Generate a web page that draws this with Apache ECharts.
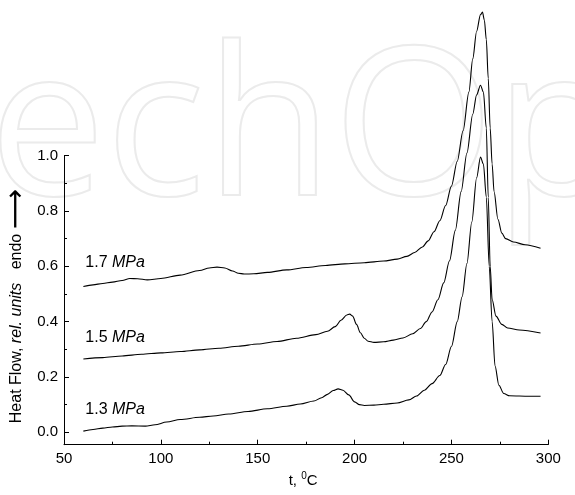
<!DOCTYPE html>
<html><head><meta charset="utf-8">
<script src="https://cdn.jsdelivr.net/npm/echarts@6/dist/echarts.min.js"></script>
<style>html,body{margin:0;padding:0;background:#fff}#c{width:575px;height:495px}</style>
</head><body><div id="c"></div>
<script>
// x ticks
const xTicks = [50, 100, 150, 200, 250, 300];
const yTicks = [0.0, 0.2, 0.4, 0.6, 0.8, 1.0];
const seriesNames = ['1.7', '1.5', '1.3'];
const labelPos = [[61, 0.613], [61, 0.342], [61, 0.082]];

const t17 = [60,65,70,75,80,84,88,93,100,110,120,125,129,133,137,140,143,148,155,165,175,185,195,205,215,222,227,231,235,238,241,244,247,250,253,256,259,261,263,265,266,267,268,269,270,271,272,274,276,278,282,288,296];
const v17 = [0.527,0.533,0.538,0.543,0.549,0.556,0.555,0.551,0.556,0.568,0.585,0.594,0.597,0.594,0.583,0.575,0.572,0.573,0.578,0.587,0.596,0.603,0.609,0.613,0.619,0.626,0.636,0.650,0.670,0.692,0.725,0.765,0.82,0.89,0.98,1.09,1.23,1.35,1.45,1.51,1.519,1.49,1.42,1.28,1.10,0.97,0.87,0.77,0.72,0.70,0.688,0.678,0.665];

const t15 = [60,70,80,90,100,110,120,130,140,150,160,170,180,186,190,193,196,197.5,199,201,203,205,207,210,215,220,225,230,234,237,240,243,246,249,252,255,258,261,263,265,266.5,268,269,270,271,273,276,279,285,296];
const v15 = [0.265,0.270,0.276,0.282,0.287,0.292,0.298,0.304,0.311,0.319,0.328,0.340,0.353,0.365,0.382,0.405,0.424,0.427,0.420,0.390,0.360,0.340,0.329,0.325,0.327,0.333,0.341,0.356,0.375,0.400,0.435,0.479,0.54,0.62,0.73,0.87,1.01,1.15,1.22,1.255,1.23,1.10,0.85,0.60,0.48,0.42,0.39,0.377,0.370,0.359];

const t13 = [60,65,70,75,80,85,92,97,103,110,120,127,135,145,155,165,172,179,183,186,189,191.5,194,197,200,202.5,205,210,215,222,228,232,236,240,244,247,250,253,255.5,258,260.5,263,265,266.5,268,269.5,271,272.5,274.5,277,280,290,296];
const v13 = [0.004,0.010,0.015,0.019,0.022,0.023,0.022,0.027,0.037,0.046,0.054,0.059,0.066,0.075,0.085,0.094,0.102,0.113,0.125,0.137,0.151,0.157,0.152,0.135,0.110,0.100,0.097,0.098,0.101,0.106,0.117,0.131,0.152,0.176,0.205,0.245,0.31,0.40,0.49,0.61,0.76,0.92,0.995,0.97,0.85,0.60,0.40,0.24,0.17,0.14,0.132,0.130,0.130];

const xs = [t17, t15, t13];
const vs = [v17, v15, v13];

const FONT = '"Liberation Sans", Arial, sans-serif';
const chart = echarts.init(document.getElementById('c'), null, {renderer: 'canvas'});

const series = seriesNames.map((name, k) => ({
  name: name + ' MPa',
  type: 'line',
  data: xs[k].map((t, i) => [t, vs[k][i]]),
  showSymbol: false,
  smooth: 0.3,
  smoothMonotone: 'x',
  clip: false,
  lineStyle: {color: '#000', width: 1.1},
  animation: false,
  markPoint: {
    symbol: 'circle', symbolSize: 0.1,
    itemStyle: {color: 'rgba(0,0,0,0)'},
    label: {
      show: true, position: 'right', distance: 0,
      formatter: name + ' {i|MPa}',
      color: '#000', fontFamily: FONT, fontSize: 16,
      rich: {i: {fontStyle: 'italic', fontFamily: FONT, fontSize: 16, color: '#000'}}
    },
    data: [{coord: labelPos[k]}]
  }
}));

chart.setOption({
  animation: false,
  backgroundColor: '#fff',
  graphic: [{
    type: 'text', left: -272, top: 31, z: -10, silent: true,
    style: {text: 'IntechOpen', font: '208px "Open Sans", sans-serif', fill: 'none', stroke: '#ebebeb', lineWidth: 2}
  }],
  grid: {left: 64, right: 26.7, top: 155.7, bottom: 50.3, containLabel: false, outerBoundsMode: 'none'},
  xAxis: {
    type: 'value', min: xTicks[0], max: xTicks[xTicks.length - 1], interval: 50,
    name: 't, {s|0}C', nameLocation: 'middle', nameGap: 27,
    nameTextStyle: {color: '#000', fontFamily: FONT, fontSize: 15, padding: [0, 6, 0, 0],
      rich: {s: {fontSize: 10, verticalAlign: 'top', padding: [0, 0, 8, 0], fontFamily: FONT, color: '#000'}}},
    axisLine: {onZero: false, lineStyle: {color: '#000', width: 1}},
    axisTick: {inside: true, length: 5, lineStyle: {color: '#000'}},
    minorTick: {show: true, splitNumber: 2, length: 3, lineStyle: {color: '#000'}},
    axisLabel: {color: '#000', fontFamily: FONT, fontSize: 15, margin: 7},
    splitLine: {show: false}
  },
  yAxis: {
    type: 'value', min: -0.045, max: yTicks[yTicks.length - 1], splitNumber: 5,
    name: 'Heat Flow, {i|rel. units}   endo {a|⟶}', nameLocation: 'middle', nameGap: 39,
    nameMoveOverlap: false,
    nameTextStyle: {color: '#000', fontFamily: FONT, fontSize: 16, lineHeight: 16, padding: [0, 12, 0, 0],
      rich: {i: {fontStyle: 'italic', fontFamily: FONT, fontSize: 16, lineHeight: 16, color: '#000'},
             a: {fontFamily: 'DejaVu Sans', fontSize: 28, lineHeight: 16, color: '#000'}}},
    axisLine: {onZero: false, lineStyle: {color: '#000', width: 1}},
    axisTick: {inside: true, length: 5, lineStyle: {color: '#000'}},
    minorTick: {show: true, splitNumber: 2, length: 3, lineStyle: {color: '#000'}},
    axisLabel: {color: '#000', fontFamily: FONT, fontSize: 15, margin: 6,
      formatter: v => (v < -1e-9 ? '' : v.toFixed(1))},
    splitLine: {show: false}
  },
  series: series
});
</script></body></html>
